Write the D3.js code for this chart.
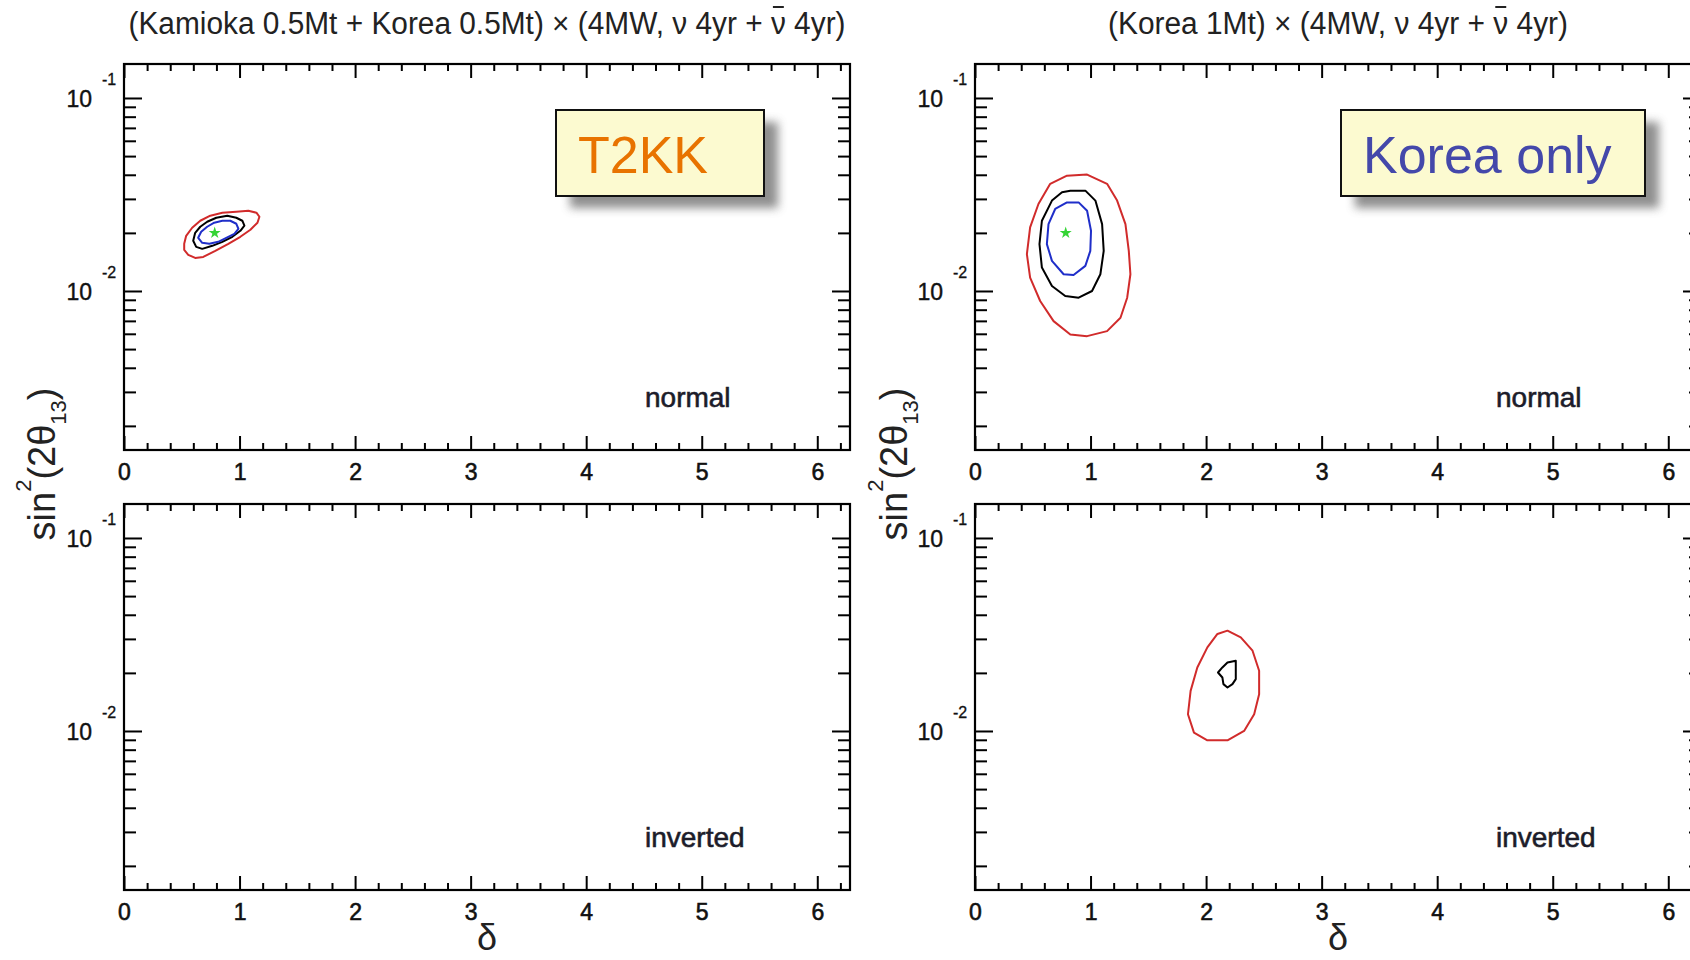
<!DOCTYPE html>
<html><head><meta charset="utf-8">
<script src="https://cdn.jsdelivr.net/npm/d3@7"></script>
<style>
html,body{margin:0;padding:0;background:#fff;overflow:hidden}
svg{display:block}
text{font-family:"Liberation Sans",Arial,Helvetica,sans-serif}
</style></head><body>
<svg id="chart" width="1690" height="960"></svg>
<script>
// ---- axis definitions ----
const deltaDomain = [0, 2 * Math.PI];
const sinDomain = [0.0015, 0.15];
const deltaTicks = [0, 1, 2, 3, 4, 5, 6];
const deltaMinorTicks = d3.range(1, 32).map(i => i * 0.2).filter(v => Math.abs(v - Math.round(v)) > 1e-6);
const sinMajorTicks = [0.01, 0.1];
const sinExponents = ["-2", "-1"];
const sinMinorTicks = [0.002, 0.003, 0.004, 0.005, 0.006, 0.007, 0.008, 0.009,
                       0.02, 0.03, 0.04, 0.05, 0.06, 0.07, 0.08, 0.09];

// ---- labels ----
const columnTitles = ["(Kamioka 0.5Mt + Korea 0.5Mt) \u00d7 (4MW, \u03bd 4yr + \u03bd 4yr)",
                      "(Korea 1Mt) \u00d7 (4MW, \u03bd 4yr + \u03bd 4yr)"];
const experimentNames = ["T2KK", "Korea only"];
const hierarchyNames = ["normal", "inverted"];

// ---- true point (delta, sin^2 2theta13) ----
const truePoint = [0.785, 0.02];

// ---- allowed regions [delta, sin^2 2theta13] ----
// T2KK, normal hierarchy
const t2kkNormalRed = [[0.521,0.01756],[0.538,0.01932],[0.590,0.02127],[0.660,0.02312],[0.747,0.02455],
  [0.851,0.02544],[0.972,0.02575],[1.076,0.02606],[1.146,0.02544],[1.172,0.02425],[1.155,0.02258],
  [1.094,0.02076],[1.007,0.01909],[0.903,0.01756],[0.790,0.01614],[0.686,0.01502],[0.616,0.01484],
  [0.556,0.01539],[0.521,0.01634]];
const t2kkNormalBlack = [[0.599,0.0182],[0.616,0.02002],[0.660,0.02152],[0.720,0.02284],[0.799,0.02396],
  [0.894,0.02455],[0.972,0.02396],[1.024,0.02312],[1.042,0.02178],[1.007,0.02051],[0.938,0.01909],
  [0.851,0.01798],[0.764,0.01714],[0.677,0.01653],[0.625,0.01693]];
const t2kkNormalBlue = [[0.642,0.01886],[0.668,0.02026],[0.720,0.02152],[0.781,0.02258],[0.851,0.02312],
  [0.920,0.02312],[0.972,0.0223],[0.990,0.02101],[0.955,0.01978],[0.885,0.01886],[0.816,0.01798],
  [0.738,0.01756],[0.677,0.01777]];
// Korea only, normal hierarchy
const koreaNormalRed = [[0.796,0.0396],[0.970,0.0401],[1.143,0.0359],[1.230,0.0294],[1.302,0.0222],
  [1.331,0.01614],[1.345,0.01221],[1.317,0.00923],[1.259,0.007265],[1.143,0.006194],[0.970,0.005834],
  [0.825,0.005953],[0.680,0.006982],[0.564,0.008872],[0.477,0.01173],[0.449,0.01552],[0.477,0.02134],
  [0.549,0.02824],[0.651,0.0359]];
const koreaNormalBlack = [[0.825,0.0331],[0.955,0.0331],[1.042,0.0294],[1.100,0.0222],[1.114,0.01614],
  [1.085,0.01221],[1.013,0.0100],[0.897,0.00923],[0.781,0.00942],[0.666,0.01062],[0.579,0.01322],
  [0.558,0.01749],[0.579,0.02312],[0.666,0.0294],[0.753,0.03244]];
const koreaNormalBlue = [[0.796,0.02878],[0.897,0.02878],[0.970,0.02606],[1.004,0.02051],[0.998,0.01614],
  [0.955,0.01349],[0.853,0.01211],[0.767,0.01221],[0.666,0.01432],[0.622,0.01749],[0.636,0.0222],
  [0.694,0.0266]];
// Korea only, inverted hierarchy
const koreaInvertedRed = [[2.185,0.0331],[2.300,0.03055],[2.402,0.02606],[2.459,0.02051],[2.459,0.01552],
  [2.416,0.01221],[2.329,0.0100],[2.185,0.008945],[2.011,0.008945],[1.895,0.0098],[1.843,0.01221],
  [1.866,0.01614],[1.924,0.02134],[2.011,0.02711],[2.098,0.03182]];
const koreaInvertedBlack = [[2.185,0.02265],[2.257,0.02312],[2.257,0.01857],[2.228,0.01749],[2.185,0.0168],
  [2.150,0.01749],[2.141,0.01893],[2.103,0.0201],[2.141,0.02134]];

// ---- layout ----
const plotW = 726, plotH = 386;
const lineColors = { red: "#d12b2b", black: "#000000", blue: "#1f2ec9" };
const panels = [
  { left: 124, top: 64, col: 0, row: 0, curves: [[t2kkNormalRed,"red"],[t2kkNormalBlack,"black"],[t2kkNormalBlue,"blue"]], star: true },
  { left: 975, top: 64, col: 1, row: 0, curves: [[koreaNormalRed,"red"],[koreaNormalBlack,"black"],[koreaNormalBlue,"blue"]], star: true },
  { left: 124, top: 504, col: 0, row: 1, curves: [], star: false },
  { left: 975, top: 504, col: 1, row: 1, curves: [[koreaInvertedRed,"red"],[koreaInvertedBlack,"black"]], star: false }
];

const svg = d3.select("#chart");
svg.append("rect").attr("width", 1690).attr("height", 960).attr("fill", "#fff");
const defs = svg.append("defs");
defs.append("filter").attr("id", "soft").attr("x", "-30%").attr("y", "-40%").attr("width", "160%").attr("height", "180%")
  .append("feGaussianBlur").attr("stdDeviation", 5);

panels.forEach(p => {
  const g = svg.append("g").attr("transform", `translate(${p.left},${p.top})`);
  const x = d3.scaleLinear().domain(deltaDomain).range([0, plotW]);
  const y = d3.scaleLog().domain(sinDomain).range([plotH, 0]);

  const line = d3.line().x(d => x(d[0])).y(d => y(d[1])).curve(d3.curveLinearClosed);
  p.curves.forEach(([pts, c]) => {
    g.append("path").attr("d", line(pts)).attr("fill", "none")
      .attr("stroke", lineColors[c]).attr("stroke-width", 2).attr("stroke-linejoin", "round");
  });
  if (p.star) {
    g.append("path").attr("d", d3.symbol(d3.symbolStar, 45)())
      .attr("transform", `translate(${x(truePoint[0])},${y(truePoint[1])})`)
      .attr("fill", "#35d435");
  }

  const styleAxis = sel => { sel.select(".domain").remove(); sel.selectAll("line").attr("stroke", "#000").attr("stroke-width", 2); };

  // bottom axis with labels
  g.append("g").attr("transform", `translate(0,${plotH})`)
    .call(d3.axisBottom(x).tickValues(deltaTicks).tickSize(-14).tickPadding(14).tickFormat(d3.format("d")))
    .call(styleAxis)
    .call(a => a.selectAll("text").attr("font-size", 23).attr("fill", "#111")
      .attr("stroke", "#111").attr("stroke-width", 0.6)
      .attr("font-family", '"Liberation Sans",Arial,sans-serif'));
  g.append("g").attr("transform", `translate(0,${plotH})`)
    .call(d3.axisBottom(x).tickValues(deltaMinorTicks).tickSize(-7).tickFormat("")).call(styleAxis);
  // top axis
  g.append("g").call(d3.axisTop(x).tickValues(deltaTicks).tickSize(-14).tickFormat("")).call(styleAxis);
  g.append("g").call(d3.axisTop(x).tickValues(deltaMinorTicks).tickSize(-7).tickFormat("")).call(styleAxis);
  // left axis
  g.append("g").call(d3.axisLeft(y).tickValues(sinMajorTicks).tickSize(-18).tickFormat("")).call(styleAxis);
  g.append("g").call(d3.axisLeft(y).tickValues(sinMinorTicks).tickSize(-12).tickFormat("")).call(styleAxis);
  // right axis
  g.append("g").attr("transform", `translate(${plotW},0)`)
    .call(d3.axisRight(y).tickValues(sinMajorTicks).tickSize(-18).tickFormat("")).call(styleAxis);
  g.append("g").attr("transform", `translate(${plotW},0)`)
    .call(d3.axisRight(y).tickValues(sinMinorTicks).tickSize(-12).tickFormat("")).call(styleAxis);

  // power-of-ten labels
  sinMajorTicks.forEach((v, i) => {
    g.append("text").attr("x", -32).attr("y", y(v) + 9).attr("text-anchor", "end")
      .attr("font-size", 23).attr("fill", "#111").attr("stroke", "#111").attr("stroke-width", 0.4).text("10");
    g.append("text").attr("x", -22).attr("y", y(v) - 13).attr("text-anchor", "start")
      .attr("font-size", 16).attr("fill", "#111").attr("stroke", "#111").attr("stroke-width", 0.3).text(sinExponents[i]);
  });

  // frame
  g.append("rect").attr("width", plotW).attr("height", plotH).attr("fill", "none")
    .attr("stroke", "#000").attr("stroke-width", 2.2);

  // hierarchy label
  g.append("text").attr("x", 521).attr("y", 343).attr("font-size", 28)
    .attr("fill", "#1c1c2a").attr("stroke", "#1c1c2a").attr("stroke-width", 0.6)
    .text(hierarchyNames[p.row]);
});

// column titles with anti-neutrino bar
const titleGeom = [{ cx: 487, len: 717 }, { cx: 1338, len: 460 }];
columnTitles.forEach((t, i) => {
  const tx = svg.append("text").attr("x", titleGeom[i].cx).attr("y", 34).attr("text-anchor", "middle")
    .attr("font-size", 31).attr("fill", "#222")
    .attr("textLength", titleGeom[i].len).attr("lengthAdjust", "spacingAndGlyphs").text(t);
  const node = tx.node();
  const idx = t.lastIndexOf("\u03bd");
  const s = node.getStartPositionOfChar(idx), e = node.getEndPositionOfChar(idx);
  svg.append("line").attr("x1", s.x + 2).attr("x2", e.x - 2).attr("y1", 7).attr("y2", 7)
    .attr("stroke", "#222").attr("stroke-width", 2);
});

// axis titles
[55, 907].forEach(xp => {
  const t = svg.append("text").attr("transform", `translate(${xp},464) rotate(-90)`)
    .attr("text-anchor", "middle").attr("font-size", 38).attr("fill", "#222");
  t.append("tspan").text("sin");
  t.append("tspan").attr("font-size", 22).attr("dy", -24).text("2");
  t.append("tspan").attr("dy", 24).text("(2\u03b8");
  t.append("tspan").attr("font-size", 22).attr("dy", 11).text("13");
  t.append("tspan").attr("dy", -11).text(")");
});
[487, 1338].forEach(xp => {
  svg.append("text").attr("x", xp).attr("y", 950).attr("text-anchor", "middle")
    .attr("font-size", 36).attr("fill", "#222").text("\u03b4");
});

// experiment boxes
const boxGeom = [{ x: 556, y: 110, w: 208, h: 86, color: "#e87300" },
                 { x: 1341, y: 110, w: 304, h: 86, color: "#4448aa" }];
experimentNames.forEach((name, i) => {
  const b = boxGeom[i];
  svg.append("rect").attr("x", b.x + 14).attr("y", b.y + 12).attr("width", b.w).attr("height", b.h)
    .attr("fill", "#6a6a6a").attr("opacity", 0.75).attr("filter", "url(#soft)");
  svg.append("rect").attr("x", b.x).attr("y", b.y).attr("width", b.w).attr("height", b.h)
    .attr("fill", "#fcfad0").attr("stroke", "#111").attr("stroke-width", 2);
  svg.append("text").attr("x", b.x + 22).attr("y", b.y + 63).attr("font-size", 52)
    .attr("fill", b.color).text(name);
});
</script>
</body></html>
